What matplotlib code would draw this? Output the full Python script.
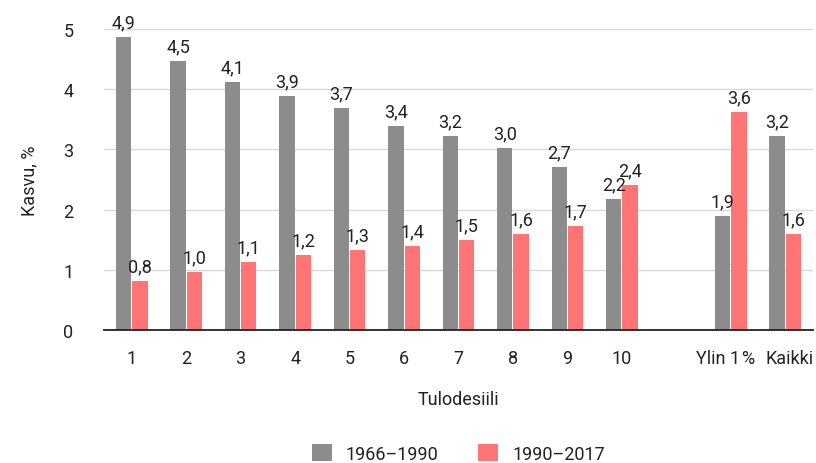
import matplotlib.pyplot as plt
import matplotlib.transforms as mtransforms
import numpy as np

plt.rcParams['font.family'] = ['Roboto', 'DejaVu Sans']

categories = ["1", "2", "3", "4", "5", "6", "7", "8", "9", "10", "", "Ylin 1\u200a%", "Kaikki"]
s1966 = [4.87, 4.47, 4.12, 3.89, 3.69, 3.39, 3.22, 3.02, 2.71, 2.18, None, 1.89, 3.22]
s1990 = [0.81, 0.96, 1.13, 1.24, 1.33, 1.40, 1.50, 1.59, 1.73, 2.41, None, 3.62, 1.59]
series_names = ["1966–1990", "1990–2017"]
colors = ["#8c8c8c", "#ff7575"]

fig = plt.figure(figsize=(8.16, 4.64), dpi=100)
ax = fig.add_axes([104 / 816, 1 - 331 / 464, (813 - 104) / 816, (331 - 30) / 464])

x = np.arange(len(categories))
w = 0.28
gap = 0.02
for vals, off, col, name in [(s1966, -(w + gap) / 2, colors[0], series_names[0]),
                             (s1990, (w + gap) / 2, colors[1], series_names[1])]:
    xs = [xi + off for xi, v in zip(x, vals) if v is not None]
    vs = [v for v in vals if v is not None]
    bars = ax.bar(xs, vs, width=w, color=col, label=name, zorder=2)
    for b, v in zip(bars, vs):
        ax.annotate(f"{v:.1f}".replace(".", ","), (b.get_x() + b.get_width() / 2, v),
                    xytext=(0, 4), textcoords="offset points",
                    ha="center", va="bottom", fontsize=13, color="#222222",
                    annotation_clip=False)

ax.set_ylim(0, 5)
ax.set_xlim(-0.51, len(categories) - 0.49)
ax.set_xticks(x)
ax.set_xticklabels(categories)
ax.set_yticks(range(6))
ax.tick_params(axis="both", length=0, labelsize=13, colors="#222222")
ax.tick_params(axis="x", pad=14)
ax.tick_params(axis="y", pad=22)
ax.grid(axis="y", color="#d9d9d9", linewidth=1, zorder=0)
for s in ["top", "right", "left"]:
    ax.spines[s].set_visible(False)
ax.spines["bottom"].set_color("#222222")
ax.spines["bottom"].set_linewidth(1.3)
ax.spines["bottom"].set_zorder(3)

# nudge the last two tick labels apart a little
ticklabels = ax.get_xticklabels()
for lbl, dx in [(ticklabels[-2], -4), (ticklabels[-1], 3)]:
    lbl.set_transform(lbl.get_transform() +
                      mtransforms.ScaledTranslation(dx / 72, 0, fig.dpi_scale_trans))

ax.set_xlabel("Tulodesiili", fontsize=13, color="#222222", labelpad=16)
ax.set_ylabel("Kasvu, %", fontsize=13, color="#222222", labelpad=18)

ax.legend(loc="center", bbox_to_anchor=(0.5, -0.41), ncol=2, frameon=False,
          fontsize=13, handlelength=1.1, handleheight=1.1, handletextpad=0.8,
          columnspacing=2.2, labelcolor="#222222")

fig.savefig("out.png", dpi=100)
